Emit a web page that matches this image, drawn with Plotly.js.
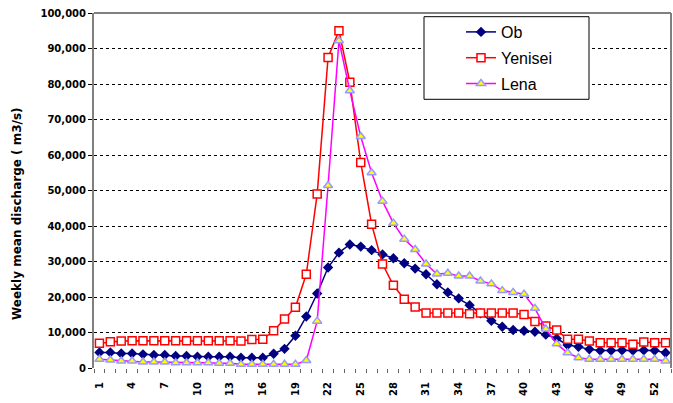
<!DOCTYPE html>
<html>
<head>
<meta charset="utf-8">
<script src="https://cdn.plot.ly/plotly-3.0.1.min.js"></script>
<style>
html,body{margin:0;padding:0;background:#fff;}
#chart{width:673px;height:403px;}
</style>
</head>
<body>
<div id="chart"></div>
<script>
// Week numbers (categories)
var weeks = [1,2,3,4,5,6,7,8,9,10,11,12,13,14,15,16,17,18,19,20,21,22,23,24,25,26,27,28,29,30,31,32,33,34,35,36,37,38,39,40,41,42,43,44,45,46,47,48,49,50,51,52,53];
// Tick labels shown on the x axis
var tickWeeks = [1,4,7,10,13,16,19,22,25,28,31,34,37,40,43,46,49,52];

// Weekly mean discharge (m3/s)
var ob = [4400,4400,4100,4100,3850,3650,3650,3400,3400,3200,
          3200,3200,3200,2900,2900,2900,4000,5400,9100,14500,
          21000,28300,32500,34800,34200,33200,32000,30900,29500,28000,
          26400,23600,21300,19600,17700,15400,13300,11600,10700,10500,
          10200,9400,8300,6500,6000,5250,4900,4900,5000,4900,
          5000,4900,4300];
var yenisei = [7000,7400,7600,7700,7700,7700,7700,7700,7700,7700,
               7700,7700,7700,7600,8000,8100,10500,13800,17100,26400,
               49000,87500,95000,80500,57900,40500,29300,23300,19400,17200,
               15500,15500,15500,15500,15300,15500,15500,15500,15500,15100,
               13100,11800,10700,8100,8100,7600,7100,7100,7100,6700,
               7300,7100,7100];
var lena = [2440,2250,1970,1970,1690,1690,1690,1500,1500,1500,
            1500,1310,1310,1030,1030,1030,1030,1030,1030,2100,
            13200,51400,92200,78100,65200,55000,47000,40800,36300,33400,
            29300,26500,26700,25900,25900,24500,23700,21800,21300,20800,
            16800,11000,6800,4300,2900,2450,2450,2450,2450,2450,
            2450,2450,2000];

var W = 673, H = 403;
var mL = 94, mR = 2, mT = 13, mB = 35;
var pw = W - mL - mR, ph = H - mT - mB;
function px(x){ return (x - mL) / pw; }
function py(y){ return (H - mB - y) / ph; }

var traces = [
  {x: weeks, y: ob, name: 'Ob', type: 'scatter', mode: 'lines+markers', legendgroup: 'a',
   line: {color: '#000080', width: 1.5},
   marker: {symbol: 'diamond', size: 8, color: '#000080'}},
  {x: weeks, y: yenisei, name: 'Yenisei', type: 'scatter', mode: 'lines+markers', legendgroup: 'b',
   line: {color: '#ff0000', width: 1.5},
   marker: {symbol: 'square', size: 8, color: '#ffffff', line: {color: '#ff0000', width: 1.5}}},
  {x: weeks, y: lena, name: 'Lena', type: 'scatter', mode: 'lines+markers', legendgroup: 'c',
   line: {color: '#ff00ff', width: 1.5},
   marker: {symbol: 'triangle-up', size: 8, color: '#ffff00', line: {color: '#9999ff', width: 1.5}}}
];

var layout = {
  width: W, height: H,
  margin: {l: mL, r: mR, t: mT, b: mB, pad: 0},
  paper_bgcolor: '#ffffff', plot_bgcolor: '#ffffff',
  showlegend: true,
  legend: {x: px(461), y: py(15), xanchor: 'left', yanchor: 'top',
           bgcolor: 'rgba(0,0,0,0)', borderwidth: 0, tracegroupgap: 2,
           font: {family: 'Liberation Sans, Arial, sans-serif', size: 16, color: '#000'}},
  xaxis: {
    range: [0.5, 53.5], tickmode: 'array', tickvals: tickWeeks,
    ticktext: tickWeeks.map(String), tickangle: -90,
    ticks: '', showgrid: false, zeroline: false, showline: false,
    ticklabelstandoff: 11,
    tickfont: {family: 'DejaVu Sans, sans-serif', size: 10, color: '#000', weight: 'bold'},
    minor: {ticks: 'outside', tick0: 0.5, dtick: 1, ticklen: 4, tickwidth: 1, tickcolor: '#666', showgrid: false}
  },
  yaxis: {
    range: [0, 100000], tickmode: 'linear', tick0: 0, dtick: 10000, tickformat: ',d',
    ticks: 'outside', ticklen: 4, tickwidth: 1, tickcolor: '#000',
    showline: true, linecolor: '#808080', linewidth: 2,
    showgrid: true, gridcolor: '#000000', gridwidth: 1, griddash: '3px,3px',
    zeroline: false,
    tickfont: {family: 'DejaVu Sans, sans-serif', size: 10, color: '#000', weight: 'bold'}
  },
  shapes: [
    {type: 'line', xref: 'paper', yref: 'paper', x0: 0, x1: 1, y0: 1, y1: 1, line: {color: '#808080', width: 2}},
    {type: 'line', xref: 'paper', yref: 'paper', x0: 1, x1: 1, y0: 0, y1: 1, line: {color: '#808080', width: 2}},
    {type: 'rect', xref: 'paper', yref: 'paper', layer: 'above',
     x0: px(424), x1: px(589), y0: py(99.3), y1: py(16.7),
     line: {color: '#000000', width: 1}, fillcolor: '#ffffff'}
  ],
  annotations: [
    {text: 'Weekly mean discharge ( m3/s)', xref: 'paper', yref: 'paper',
     x: px(17), y: py(214), xanchor: 'center', yanchor: 'middle', textangle: -90, showarrow: false,
     font: {family: 'DejaVu Sans, sans-serif', size: 12, color: '#000', weight: 'bold'}}
  ]
};

Plotly.newPlot('chart', traces, layout, {displayModeBar: false, staticPlot: true});
</script>
</body>
</html>
